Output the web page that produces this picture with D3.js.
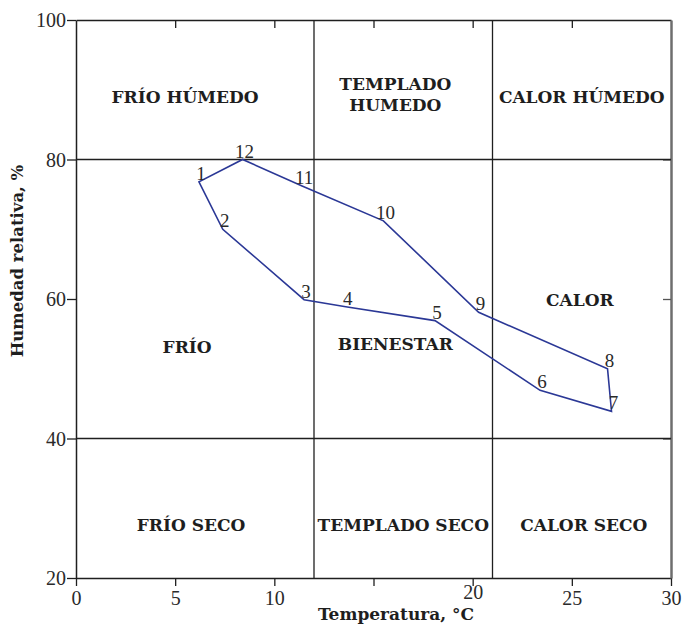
<!DOCTYPE html>
<html>
<head>
<meta charset="utf-8">
<script src="https://cdn.jsdelivr.net/npm/d3@7/dist/d3.min.js"></script>
<style>
html,body{margin:0;padding:0;background:#fff;}
svg{display:block;}
</style>
</head>
<body>
<svg id="chart" width="684" height="627"></svg>
<script>
// Data
const pointLabels = ["1","2","3","4","5","6","7","8","9","10","11","12"];
const temperature = [6.2, 7.4, 11.5, 13.6, 18.1, 23.4, 27.0, 26.8, 20.3, 15.5, 11.4, 8.4];
const humidity    = [76.8, 70.0, 59.9, 58.9, 56.9, 46.9, 43.9, 50.0, 58.1, 71.2, 76.2, 80.0];

const xTicks = [0, 5, 10, 15, 20, 25, 30];
const xTickLabels = ["0", "5", "10", "", "20", "25", "30"];
const yTicks = [20, 40, 60, 80, 100];

// zone boundaries
const tempBounds = [12, 21];
const humBounds = [40, 80];

// zone labels (lines, temperature, humidity of label centre)
const zoneNames = [["FRÍO HÚMEDO"], ["TEMPLADO", "HUMEDO"], ["CALOR HÚMEDO"],
                   ["FRÍO"], ["BIENESTAR"], ["CALOR"],
                   ["FRÍO SECO"], ["TEMPLADO SECO"], ["CALOR SECO"]];
const zoneTemp = [5.5, 16.1, 25.5, 5.6, 16.1, 25.4, 5.8, 16.5, 25.6];
const zoneHum  = [89.0, 89.3, 89.0, 53.2, 53.6, 59.9, 27.6, 27.6, 27.6];

(function () {
const svg = d3.select("#chart");
const L = 76, R = 671, T = 20, B = 578;
const x = d3.scaleLinear().domain([0, 30]).range([L, R]);
const y = d3.scaleLinear().domain([20, 100]).range([B, T]);

const ink = "#1f1f1f";
const serif = "'Liberation Serif', 'DejaVu Serif', serif";
const boldSerif = "'DejaVu Serif', 'Liberation Serif', serif";

// Axes
const gBottom = svg.append("g").attr("transform", `translate(0,${B})`)
  .call(d3.axisBottom(x).tickValues(xTicks).tickSize(8).tickSizeOuter(0)
    .tickFormat((d,i) => xTickLabels[i]));
const gTop = svg.append("g").attr("transform", `translate(0,${T})`)
  .call(d3.axisBottom(x).tickValues(xTicks.slice(1, -1)).tickSize(8).tickSizeOuter(0).tickFormat(""));
const gLeft = svg.append("g").attr("transform", `translate(${L},0)`)
  .call(d3.axisLeft(y).tickValues(yTicks).tickSize(9).tickSizeOuter(0));
const gRight = svg.append("g").attr("transform", `translate(${R},0)`)
  .call(d3.axisLeft(y).tickValues(yTicks.slice(1, -1)).tickSize(8).tickSizeOuter(0).tickFormat(""));

[gBottom, gTop, gLeft].forEach(g => {
  g.selectAll(".domain").attr("stroke", ink).attr("stroke-width", 1.5);
  g.selectAll(".tick line").attr("stroke", ink).attr("stroke-width", 1.3);
  g.selectAll(".tick text").attr("fill", "#2a2a2a").style("font-family", serif).style("font-size", "20px");
});
gRight.selectAll(".domain").attr("stroke", "#6e6e6e").attr("stroke-width", 2.5);
gRight.selectAll(".tick line").attr("stroke", "#555").attr("stroke-width", 1.3);
gBottom.selectAll(".tick text").attr("dy", "0.95em").attr("y", d => d === 20 ? 2 : 8);
gLeft.selectAll(".tick text").attr("x", -10).attr("dy", "0.34em");

// zone boundary lines
svg.append("g").selectAll("line").data(tempBounds).join("line")
  .attr("x1", d => x(d)).attr("x2", d => x(d)).attr("y1", y(100)).attr("y2", y(20))
  .attr("stroke", ink).attr("stroke-width", 1.3);
svg.append("g").selectAll("line").data(humBounds).join("line")
  .attr("x1", x(0)).attr("x2", x(30)).attr("y1", d => y(d)).attr("y2", d => y(d))
  .attr("stroke", ink).attr("stroke-width", 1.3);

// zone labels
const zones = svg.append("g");
zoneNames.forEach((lines, i) => {
  const t = zones.append("text")
    .attr("x", x(zoneTemp[i])).attr("y", y(zoneHum[i]))
    .attr("text-anchor", "middle")
    .style("font-family", boldSerif).style("font-weight", "bold").style("font-size", "17px")
    .attr("fill", "#1e1e1e");
  const n = lines.length;
  lines.forEach((s, j) => {
    t.append("tspan").attr("x", x(zoneTemp[i]))
      .attr("dy", j === 0 ? `${0.36 - (n - 1) * 0.62}em` : "1.25em")
      .text(s);
  });
});

// polygon
const pts = temperature.map((t, i) => [x(t), y(humidity[i])]);
svg.append("path")
  .attr("d", d3.line()(pts) + "Z")
  .attr("fill", "none").attr("stroke", "#2b3896").attr("stroke-width", 1.6)
  .attr("stroke-linejoin", "miter");

// point labels
svg.append("g").selectAll("text").data(pointLabels).join("text")
  .attr("x", (d, i) => x(temperature[i]) + 2)
  .attr("y", (d, i) => y(humidity[i]) - 2)
  .attr("text-anchor", "middle")
  .style("font-family", serif).style("font-size", "19px")
  .attr("fill", "#2a2a2a")
  .text(d => d);

// axis titles
svg.append("text")
  .attr("x", 396).attr("y", 620)
  .attr("text-anchor", "middle")
  .style("font-family", boldSerif).style("font-weight", "bold").style("font-size", "17px")
  .attr("fill", "#1e1e1e")
  .text("Temperatura, °C");
svg.append("text")
  .attr("transform", `translate(23,${261}) rotate(-90)`)
  .attr("text-anchor", "middle")
  .style("font-family", boldSerif).style("font-weight", "bold").style("font-size", "16.5px")
  .attr("fill", "#1e1e1e")
  .text("Humedad relativa, %");
})();
</script>
</body>
</html>
